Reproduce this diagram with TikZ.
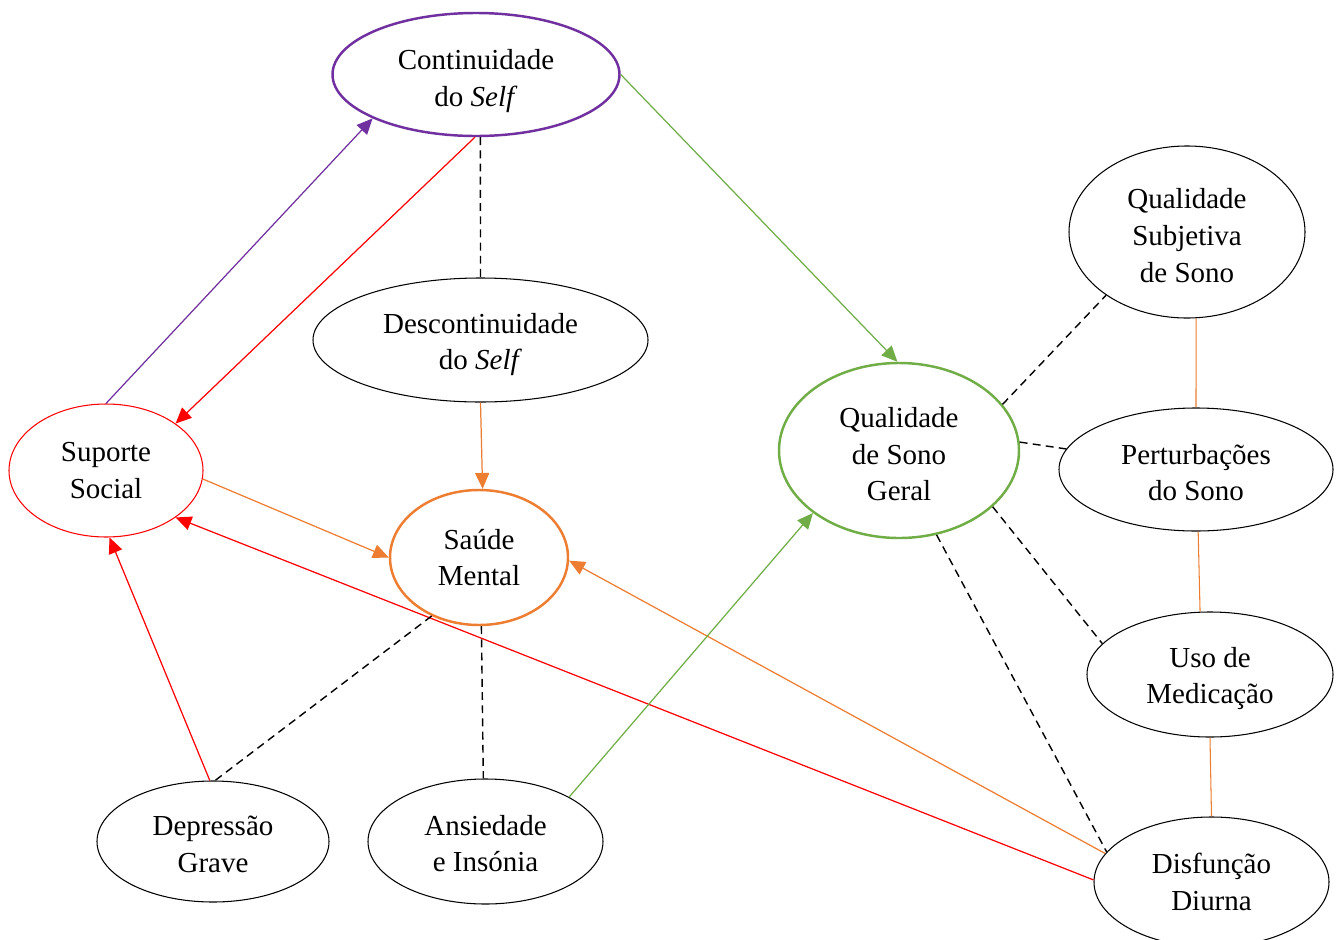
\documentclass[tikz,border=0pt]{standalone}
\usepackage{fontspec}
\setmainfont{Liberation Serif}
\usetikzlibrary{shapes.geometric,arrows.meta}
\definecolor{roxo}{HTML}{7030A0}
\definecolor{laranja}{HTML}{ED7D31}
\definecolor{verde}{HTML}{70AD47}
\definecolor{vermelho}{HTML}{FF0000}
\newlength{\upx}
\setlength{\upx}{0.02cm}
\newcommand{\desce}[1]{\rule{0pt}{#1}}

\begin{document}
\begin{tikzpicture}[x=0.02cm,y=-0.02cm,
    elipse/.style={ellipse,draw,line width=0.6pt,inner sep=0pt,align=center,
        font=\fontsize{16.5}{20.8}\selectfont},
    grossa/.style={line width=1.4pt},
    liga/.style={line width=0.8pt,dash pattern=on 4.5pt off 3pt},
    seta/.style={line width=0.7pt,-{Triangle[length=9pt,width=8pt]}}]
\useasboundingbox (0,0) rectangle (1339,940);
% elipses
\node[elipse,grossa,draw=roxo,minimum width=287\upx,minimum height=123\upx] (cont) at (476,74.5) {\desce{19pt}Continuidade\\do \textit{Self}};
\node[elipse,minimum width=335\upx,minimum height=124\upx] (desc) at (480.5,340) {\desce{16.4pt}Descontinuidade\\do \textit{Self}};
\node[elipse,draw=vermelho,minimum width=194\upx,minimum height=133\upx] (sup) at (106,470.5) {Suporte\\Social};
\node[elipse,grossa,draw=laranja,minimum width=178\upx,minimum height=135\upx] (saude) at (479,557.5) {Saúde\\Mental};
\node[elipse,minimum width=232\upx,minimum height=121\upx] (dep) at (213,841.5) {\desce{14.3pt}Depressão\\Grave};
\node[elipse,minimum width=235\upx,minimum height=125\upx] (ans) at (485.5,841.5) {\desce{13.6pt}Ansiedade\\e Insónia};
\node[elipse,grossa,draw=verde,minimum width=240\upx,minimum height=175\upx] (qsg) at (899,450.5) {\desce{15.8pt}Qualidade\\de Sono\\Geral};
\node[elipse,minimum width=236\upx,minimum height=172\upx] (qsub) at (1187,232) {\desce{15.5pt}Qualidade\\Subjetiva\\de Sono};
\node[elipse,minimum width=274\upx,minimum height=123\upx] (pert) at (1196,469.5) {\desce{14.7pt}Perturbações\\do Sono};
\node[elipse,minimum width=246\upx,minimum height=125\upx] (uso) at (1210,674.5) {\desce{16pt}Uso de\\Medicação};
\node[elipse,minimum width=235\upx,minimum height=130\upx] (disf) at (1211.5,882) {Disfunção\\Diurna};
% setas
\draw[seta,roxo] (sup.90) -- (cont.203);
\draw[seta,vermelho] (cont.269) -- (sup.34);
\draw[seta,verde] (cont.0) -- (qsg.91);
\draw[seta,laranja] (desc.270) -- (saude.87);
\draw[seta,laranja] (sup.355) -- (saude.180);
\draw[seta,vermelho] (dep.93) -- (sup.273);
\draw[seta,vermelho] (disf.179) -- (sup.326);
\draw[seta,laranja] (disf.165) -- (saude.358);
\draw[seta,verde] (ans.28) -- (qsg.216);
% tracejadas
\draw[liga] (cont.274.6) -- (desc.90);
\draw[liga] (saude.231) -- (dep.88);
\draw[liga] (saude.272) -- (ans.92);
\draw[liga] (qsg.24.5) -- (qsub.218);
\draw[liga] (qsg.4) -- (pert.171);
\draw[liga] (qsg.329.5) -- (uso.164);
\draw[liga] (qsg.294) -- (disf.164);
% linhas laranja
\draw[laranja,line width=0.6pt] (qsub.276) -- (pert.90);
\draw[laranja,line width=0.6pt] (pert.272) -- (uso.99);
\draw[laranja,line width=0.6pt] (uso.270) -- (disf.90);
\end{tikzpicture}
\end{document}
